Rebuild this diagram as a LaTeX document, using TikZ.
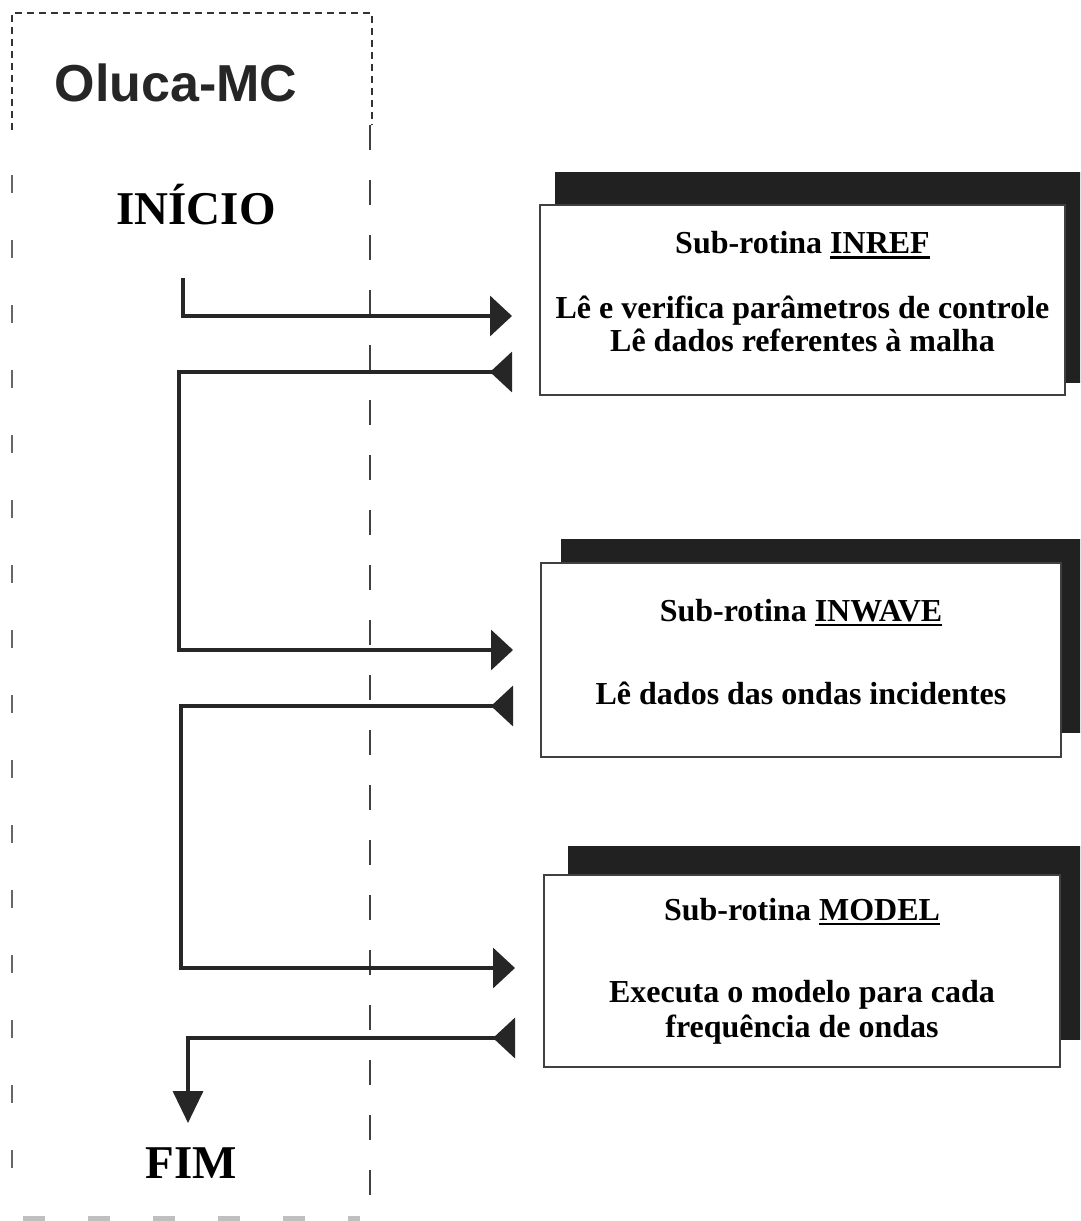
\documentclass[tikz,border=0pt]{standalone}
\usepackage{fontspec}
\setmainfont{Liberation Serif}
\newfontfamily\arialfont{Liberation Sans}
\usetikzlibrary{arrows.meta}
\newcommand{\sublinhado}[1]{\setbox0\hbox{#1}\rlap{\rule[-5pt]{\wd0}{2.5pt}}\box0}
\tikzset{
    caixa/.style={draw=black!75, line width=2pt, fill=white, align=center,
        inner sep=0pt, font=\bfseries\fontsize{32}{33}\selectfont},
    sombra/.style={fill=black!87},
    fluxo/.style={line width=3.5pt, draw=black!85},
    ponta/.tip={Triangle[length=22pt,width=40pt]},
    pontainv/.tip={Triangle[length=22pt,width=40pt,reversed]},
    pontafim/.tip={Triangle[length=32pt,width=30pt]},
    titulo/.style={font=\bfseries\fontsize{47}{50}\selectfont}
}
\begin{document}
\begin{tikzpicture}[x=1pt, y=-1pt]
    \clip (0,0) rectangle (1080,1221);
    \fill[white] (0,0) rectangle (1080,1221);
    \draw[black!80, line width=1.5pt, dash pattern=on 7pt off 5pt] (12,130) |- (372,13) -- (372,125);
    \draw[black!60, line width=2pt, dash pattern=on 18pt off 47pt] (12,175) -- (12,1200);
    \draw[black!75, line width=2pt, dash pattern=on 25pt off 30pt] (370,125) -- (370,1210);
    \draw[black!25, line width=10pt, dash pattern=on 22pt off 43pt] (23,1221) -- (360,1221);
    \node[font=\arialfont\bfseries\fontsize{52}{54}\selectfont, text=black!85] (oluca) at (176,83) {Oluca-MC};
    \node[titulo] (inicio) at (196,205) {INÍCIO};
    \node[titulo] (fim) at (191,1163) {FIM};
    \fill[sombra] (555,172) rectangle (1090,383);
    \fill[sombra] (561,539) rectangle (1090,733);
    \fill[sombra] (568,846) rectangle (1090,1040);
    \node[caixa, minimum width=525pt, minimum height=190pt] (inref) at (802.5,300)
        {Sub-rotina \sublinhado{INREF}\\[32pt]Lê e verifica parâmetros de controle\\Lê dados referentes à malha\rule[-17pt]{0pt}{0pt}};
    \node[caixa, minimum width=520pt, minimum height=194pt] (inwave) at (801,660)
        {Sub-rotina \sublinhado{INWAVE}\\[50pt]Lê dados das ondas incidentes\rule[-17pt]{0pt}{0pt}};
    \node[caixa, minimum width=516pt, minimum height=192pt] (model) at (802,971)
        {Sub-rotina \sublinhado{MODEL}\\[49pt]Executa o modelo para cada\\[2pt]frequência de ondas};
    \coordinate (c0) at (183,278);
    \coordinate (i1) at ([xshift=-27pt,yshift=-16pt]inref.west);
    \coordinate (o1) at ([xshift=-27pt,yshift=-72pt]inref.west);
    \coordinate (i2) at ([xshift=-27pt,yshift=10pt]inwave.west);
    \coordinate (o2) at ([xshift=-27pt,yshift=-46pt]inwave.west);
    \coordinate (i3) at ([xshift=-28pt,yshift=3pt]model.west);
    \coordinate (o3) at ([xshift=-28pt,yshift=-67pt]model.west);
    \coordinate (f0) at (188,1123);
    \draw[fluxo, -{ponta}] (c0) |- (i1);
    \draw[fluxo, {pontainv}-{ponta}] (o1) -- ++(-333,0) |- (i2);
    \draw[fluxo, {pontainv}-{ponta}] (o2) -- ++(-332,0) |- (i3);
    \draw[fluxo, {pontainv}-{pontafim}] (o3) -| (f0);
\end{tikzpicture}
\end{document}
